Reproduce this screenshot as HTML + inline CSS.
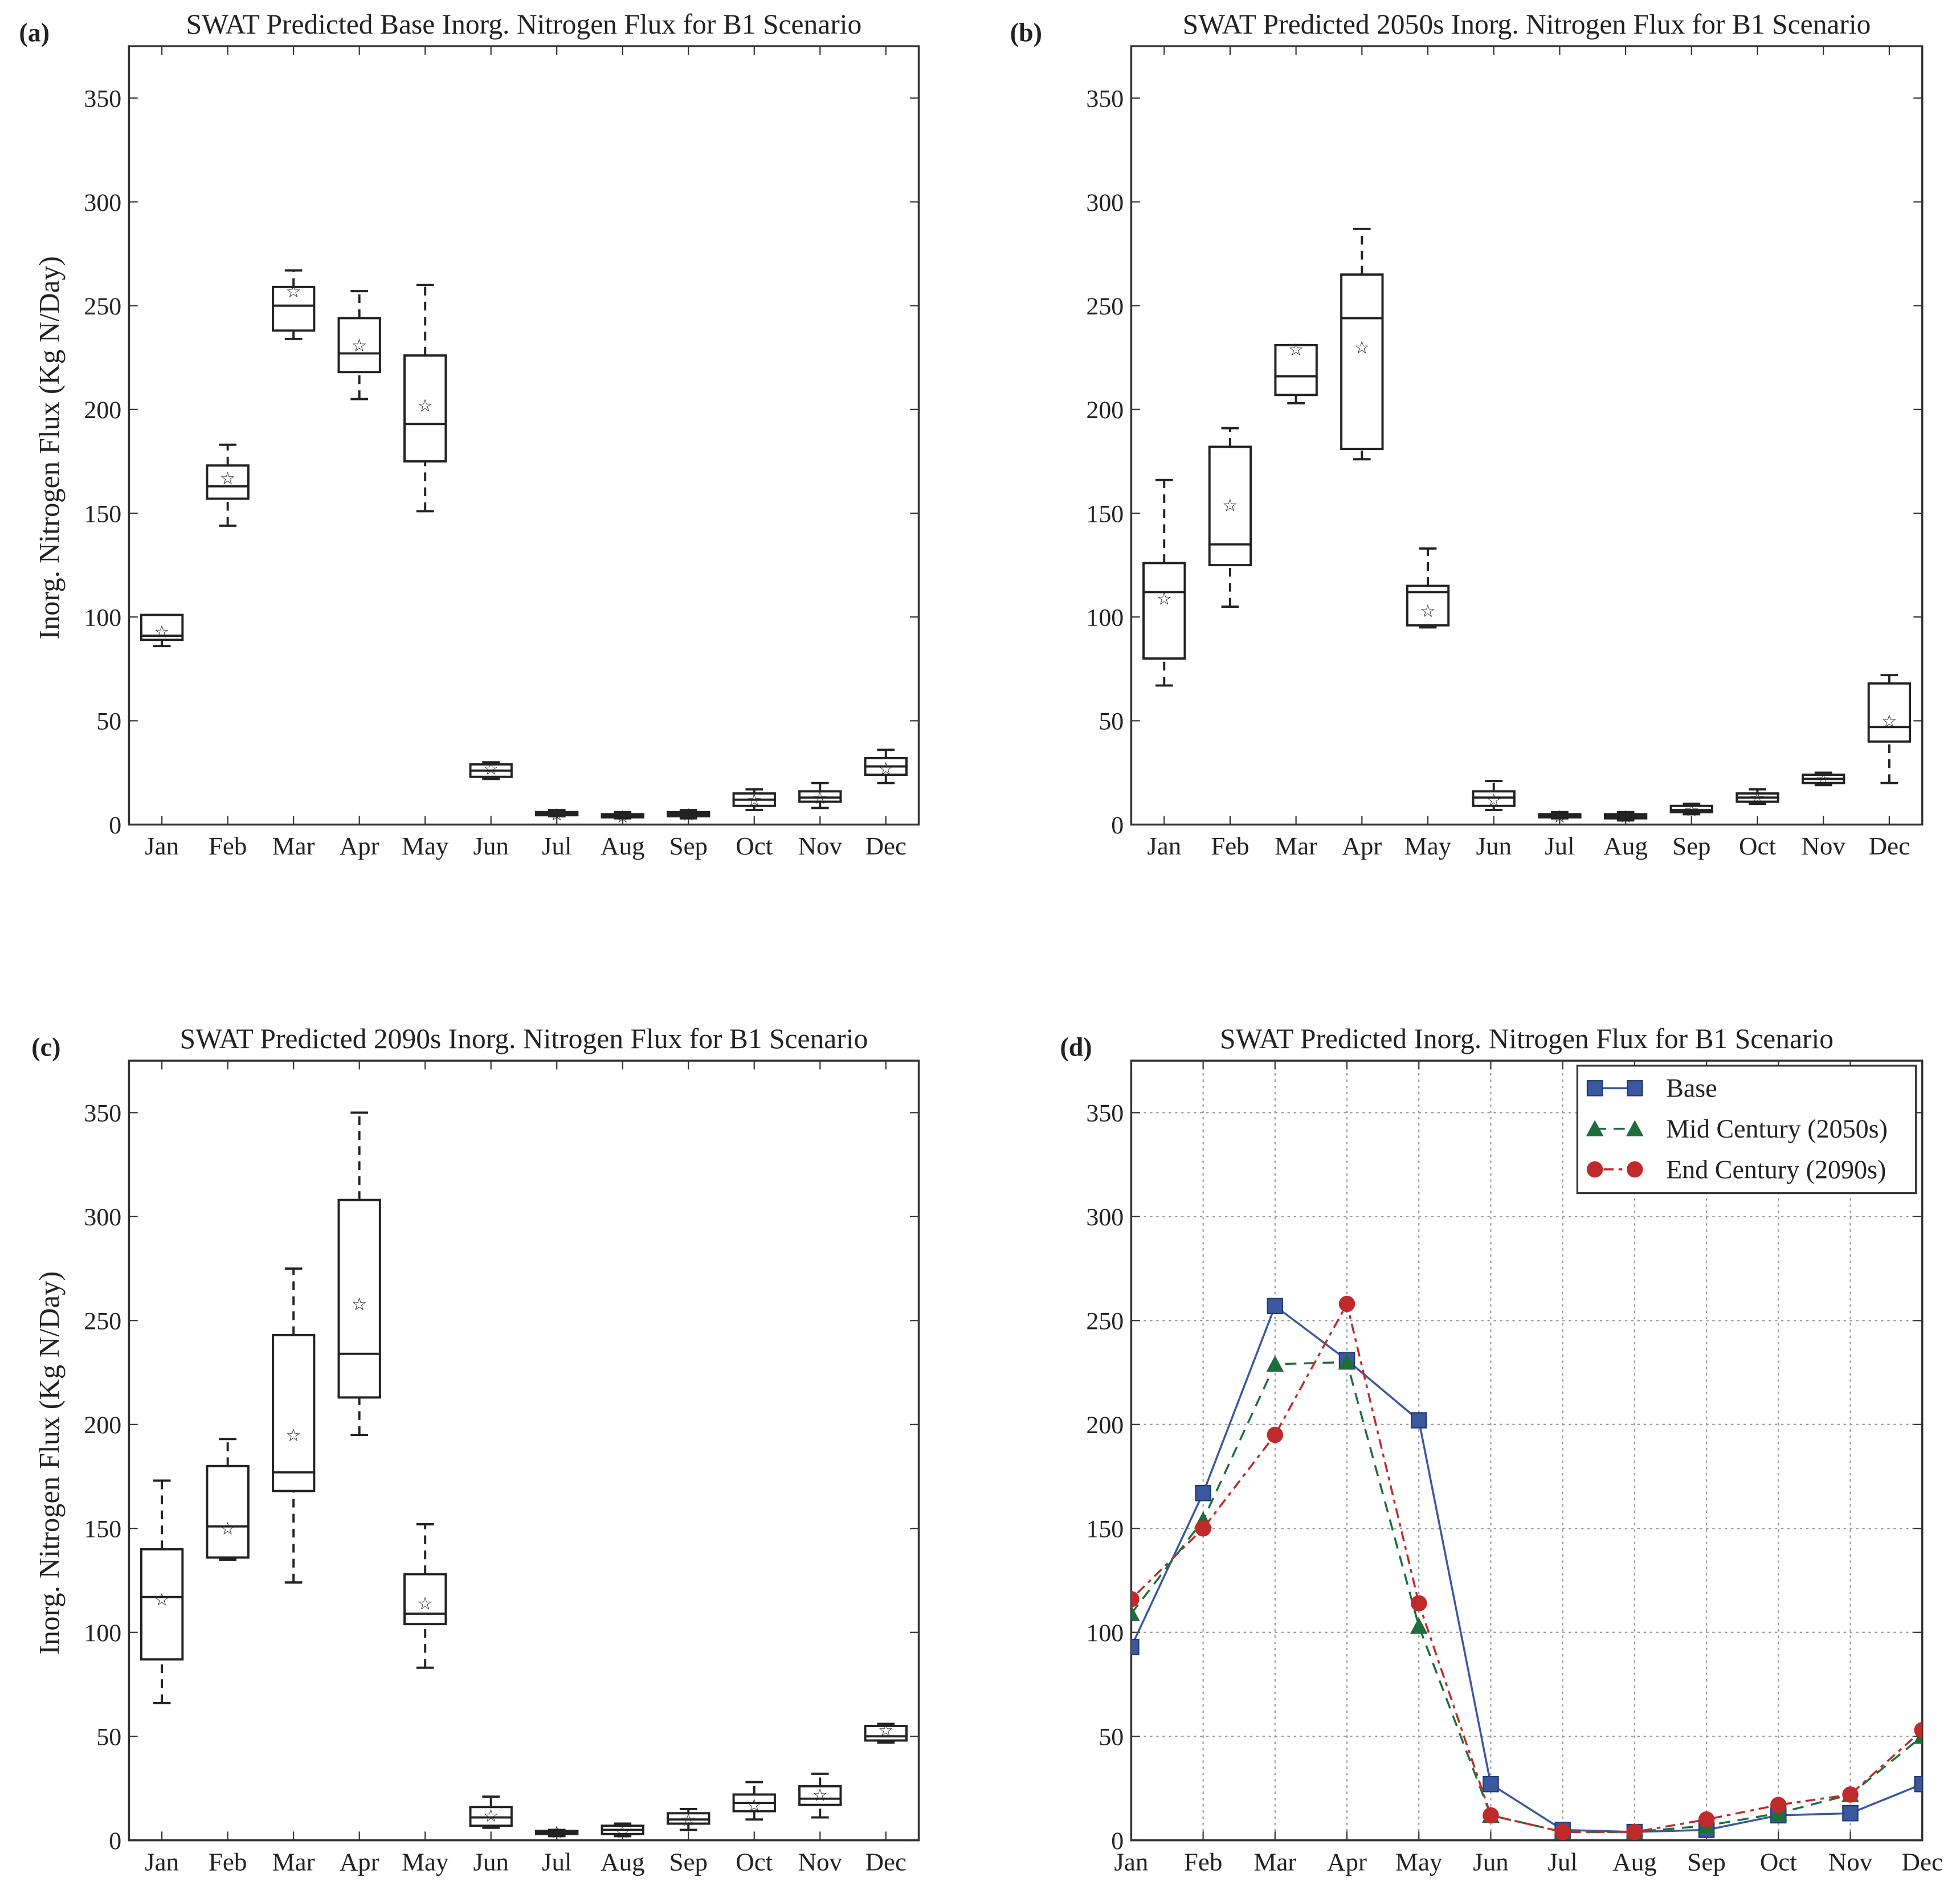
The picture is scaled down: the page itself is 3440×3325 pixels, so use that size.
<!DOCTYPE html>
<html><head><meta charset="utf-8">
<style>
html,body{margin:0;padding:0;background:#fff;}
svg{display:block;}
text{font-family:"Liberation Serif",serif;fill:#222;}
</style></head>
<body>
<svg id="fig" width="3440" height="3325" viewBox="0 0 1568 1516" xmlns="http://www.w3.org/2000/svg"></svg>
<script>
const months=["Jan","Feb","Mar","Apr","May","Jun","Jul","Aug","Sep","Oct","Nov","Dec"];
const yTicks=[0,50,100,150,200,250,300,350];
// box stats: [whiskerLow, q1, median, q3, whiskerHigh, mean]
const boxesA=[[86,89,91,101,101,93],[144,157,163,173,183,167],[234,238,250,259,267,257],[205,218,227,244,257,231],[151,175,193,226,260,202],[22,23,26,29,30,27],[4,4.5,5,6,7,5],[3,3.5,4,5,6,4],[3,4,5,6,7,5],[7,9,12,15,17,12],[8,11,13,16,20,13],[20,24,28,32,36,27]];
const boxesB=[[67,80,112,126,166,109],[105,125,135,182,191,154],[203,207,216,231,231,229],[176,181,244,265,287,230],[95,96,112,115,133,103],[7,9,13,16,21,12],[3,3.5,4,5,6,4],[2,3,4,5,6,4],[5,6,7,9,10,7],[10,11,13,15,17,13],[19,20,22,24,25,22],[20,40,47,68,72,50]];
const boxesC=[[66,87,117,140,173,116],[135,136,151,180,193,150],[124,168,177,243,275,195],[195,213,234,308,350,258],[83,104,109,128,152,114],[6,7,11,16,21,12],[2,3,4,4.5,5,4],[2,3,5,7,8,4],[5,8,10,13,15,10],[10,14,18,22,28,17],[11,17,20,26,32,22],[47,48,50,55,56,53]];
const baseMeans=[93,167,257,231,202,27,5,4,5,12,13,27];
const midMeans=[109,154,229,230,103,12,4,4,7,13,22,50];
const endMeans=[116,150,195,258,114,12,4,4,10,17,22,53];

const NS="http://www.w3.org/2000/svg";
const svg=document.getElementById('fig');
function el(tag,attrs,parent,txt){const e=document.createElementNS(NS,tag);for(const k in attrs)e.setAttribute(k,attrs[k]);if(txt!==undefined)e.textContent=txt;(parent||svg).appendChild(e);return e;}

function panel(opts){
  const {x0,x1,y0,y1,title,label,labelX,boxes,ylab,line}=opts;
  const g=el('g',{});
  
  
  const ymax=375;
  const Y=v=>y1-v*(y1-y0)/ymax;
  const X=line? (i=>x0+i*(x1-x0)/11) : (i=>x0+(i+0.5)*(x1-x0)/12);
  if(line){
    months.forEach((m,i)=>{const gl=el('line',{x1:X(i),x2:X(i),y1:y0,y2:y1,stroke:'#999','stroke-dasharray':'2,3','stroke-width':1},g);});
    yTicks.forEach(t=>{const gl=el('line',{x1:x0,x2:x1,y1:Y(t),y2:Y(t),stroke:'#999','stroke-dasharray':'2,3','stroke-width':1},g);});
  }
  const fr=el('rect',{x:x0,y:y0,width:x1-x0,height:y1-y0,fill:'none',stroke:'#333','stroke-width':1.6},g);
  
  const tt=el('text',{x:(x0+x1)/2,y:y0-10,'text-anchor':'middle','font-size':22.6},g,title);
  
  const pl=el('text',{x:labelX,y:y0-4,'font-size':21,'font-weight':'bold'},g,label);
  
  yTicks.forEach(t=>{
    el('line',{x1:x0,x2:x0+7,y1:Y(t),y2:Y(t),stroke:'#333'},g);
    el('line',{x1:x1,x2:x1-7,y1:Y(t),y2:Y(t),stroke:'#333'},g);
    const tl=el('text',{x:x0-6,y:Y(t)+7,'text-anchor':'end','font-size':20},g,String(t));
    
  });
  months.forEach((m,i)=>{
    el('line',{x1:X(i),x2:X(i),y1:y1,y2:y1-7,stroke:'#333'},g);
    el('line',{x1:X(i),x2:X(i),y1:y0,y2:y0+7,stroke:'#333'},g);
    const tl=el('text',{x:X(i),y:y1+24,'text-anchor':'middle','font-size':20.5},g,m);
    
  });
  if(ylab){
    const yl=el('text',{x:0,y:0,'text-anchor':'middle','font-size':23,transform:`translate(${x0-56},${(y0+y1)/2+10}) rotate(-90)`},g,'Inorg. Nitrogen Flux (Kg N/Day)');
    
  }
  if(boxes){
    boxes.forEach((b,i)=>{
      const cx=X(i),bw=33,cw=14;
      const bg=el('g',{},g);
      
      
      el('line',{x1:cx,x2:cx,y1:Y(b[0]),y2:Y(b[1]),stroke:'#222','stroke-width':1.8,'stroke-dasharray':'7,5'},bg);
      el('line',{x1:cx,x2:cx,y1:Y(b[3]),y2:Y(b[4]),stroke:'#222','stroke-width':1.8,'stroke-dasharray':'7,5'},bg);
      el('line',{x1:cx-cw/2,x2:cx+cw/2,y1:Y(b[0]),y2:Y(b[0]),stroke:'#222','stroke-width':1.8},bg);
      el('line',{x1:cx-cw/2,x2:cx+cw/2,y1:Y(b[4]),y2:Y(b[4]),stroke:'#222','stroke-width':1.8},bg);
      el('rect',{x:cx-bw/2,y:Y(b[3]),width:bw,height:Math.max(Y(b[1])-Y(b[3]),2),fill:'#fff',stroke:'#222','stroke-width':1.8},bg);
      el('line',{x1:cx-bw/2,x2:cx+bw/2,y1:Y(b[2]),y2:Y(b[2]),stroke:'#222','stroke-width':1.8},bg);
      el('text',{x:cx,y:Y(b[5])+5,'text-anchor':'middle','font-size':14,'font-family':'DejaVu Sans'},bg,'☆');
    });
  }
  if(line){
    const series=[
      {name:'base',vals:baseMeans,color:'#3a58a0',dash:'',mk:'sq',lbl:'Base'},
      {name:'mid-century',vals:midMeans,color:'#1e6e3a',dash:'9,6',mk:'tri',lbl:'Mid Century (2050s)'},
      {name:'end-century',vals:endMeans,color:'#c02a2a',dash:'3,4,8,4',mk:'circ',lbl:'End Century (2090s)'}];
    const clipId='clipd';
    const cp=el('clipPath',{id:clipId},g);el('rect',{x:x0,y:y0,width:x1-x0,height:y1-y0},cp);
    function marker(par,type,x,y,c){
      if(type==='sq')return el('rect',{x:x-6,y:y-6,width:12,height:12,fill:c,stroke:'#223a70','stroke-width':1},par);
      if(type==='tri')return el('polygon',{points:`${x},${y-7} ${x-7},${y+6} ${x+7},${y+6}`,fill:c},par);
      return el('circle',{cx:x,cy:y,r:6.5,fill:c},par);
    }
    series.forEach(s=>{
      const sg=el('g',{'clip-path':`url(#${clipId})`},g);
      
      
      const pts=s.vals.map((v,i)=>X(i)+','+Y(v)).join(' ');
      el('polyline',{points:pts,fill:'none',stroke:s.color,'stroke-width':1.6,'stroke-dasharray':s.dash},sg);
      s.vals.forEach((v,i)=>{const m=marker(sg,s.mk,X(i),Y(v),s.color);});
    });
    const lg=el('g',{},g);
    
    
    el('rect',{x:1262,y:853,width:271,height:102,fill:'#fff',stroke:'#333','stroke-width':1.5},lg);
    series.forEach((s,k)=>{
      const ly=871+k*32.5;
      const le=el('g',{},lg);
      
      
      el('line',{x1:1276,x2:1308,y1:ly,y2:ly,stroke:s.color,'stroke-width':1.6,'stroke-dasharray':s.dash},le);
      marker(le,s.mk,1276,ly,s.color);marker(le,s.mk,1308,ly,s.color);
      el('text',{x:1333,y:ly+7,'font-size':21},le,s.lbl);
    });
  }
}
panel({name:'panel-a',x0:103,x1:735,y0:37,y1:660,title:'SWAT Predicted Base Inorg. Nitrogen Flux for B1 Scenario',label:'(a)',labelX:15,boxes:boxesA,ylab:true});
panel({name:'panel-b',x0:905,x1:1538,y0:37,y1:660,title:'SWAT Predicted 2050s Inorg. Nitrogen Flux for B1 Scenario',label:'(b)',labelX:808,boxes:boxesB,ylab:false});
panel({name:'panel-c',x0:103,x1:735,y0:849,y1:1473,title:'SWAT Predicted 2090s Inorg. Nitrogen Flux for B1 Scenario',label:'(c)',labelX:25,boxes:boxesC,ylab:true});
panel({name:'panel-d',x0:905,x1:1538,y0:849,y1:1473,title:'SWAT Predicted Inorg. Nitrogen Flux for B1 Scenario',label:'(d)',labelX:848,line:true});
</script>
</body></html>
